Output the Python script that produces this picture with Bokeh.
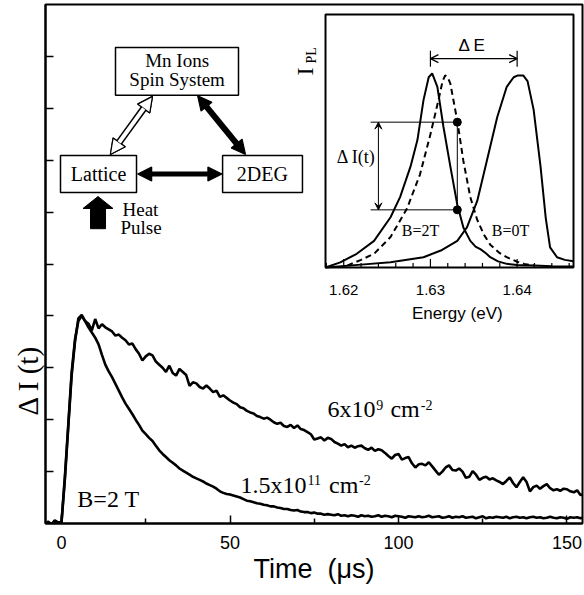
import numpy as np
from bokeh.plotting import figure
from bokeh.models import (Range1d, FixedTicker, Label, Arrow, NormalHead, OpenHead,
                          VeeHead, CustomJSTickFormatter, Title)
from bokeh.embed import file_html
from bokeh.resources import INLINE
from bokeh.core.properties import value

# ---------------- data ----------------
time_us = list(range(-5, 156))

dI_6e9 = [
    -0.06, 0.04, -0.02, 0.06, 0.02, 0.03, 0.9, 1.9, 2.9, 3.55,
    3.9, 4.0, 3.9, 3.85, 3.72, 3.94, 3.76, 3.84, 3.78, 3.74,
    3.7, 3.62, 3.64, 3.58, 3.53, 3.45, 3.47, 3.36, 3.27, 3.14,
    3.22, 3.27, 3.24, 3.12, 3.06, 3.0, 2.92, 3.04, 2.9, 2.85,
    2.98, 2.92, 2.86, 2.65, 2.72, 2.7, 2.63, 2.6, 2.66, 2.6,
    2.53, 2.56, 2.44, 2.47, 2.42, 2.37, 2.33, 2.3, 2.24, 2.22,
    2.17, 2.14, 2.12, 2.07, 2.05, 2.02, 2.04, 2.0, 1.95, 1.92,
    1.94, 1.88, 1.86, 1.9, 1.84, 1.89, 1.82, 1.8, 1.76, 1.72,
    1.62, 1.64, 1.66, 1.6, 1.65, 1.63, 1.57, 1.54, 1.5, 1.53,
    1.47, 1.5, 1.46, 1.49, 1.5, 1.45, 1.42, 1.46, 1.4, 1.43,
    1.41, 1.36, 1.3, 1.25, 1.32, 1.34, 1.23, 1.26, 1.28, 1.16,
    1.08, 1.14, 1.15, 1.12, 1.18, 1.1, 1.02, 0.94, 1.0, 1.08,
    1.12, 1.03, 1.02, 1.06, 1.0, 0.88, 0.9, 1.01, 0.94, 0.84,
    0.88, 0.9, 0.85, 0.87, 0.83, 0.8, 0.76, 0.82, 0.89, 0.78,
    0.7, 0.8, 0.89, 0.8, 0.62, 0.7, 0.73, 0.67, 0.72, 0.76,
    0.68, 0.64, 0.66, 0.63, 0.67, 0.66, 0.62, 0.6, 0.64, 0.55,
    0.56,
]

dI_15e11 = [
    -0.08, 0.0, -0.04, 0.05, 0.0, 0.02, 0.85, 1.85, 2.85, 3.5,
    3.95, 4.02, 3.9, 3.78, 3.68, 3.58, 3.45, 3.25, 3.06, 2.93,
    2.82, 2.69, 2.56, 2.43, 2.31, 2.21, 2.11, 2.0, 1.9, 1.79,
    1.72, 1.65, 1.59, 1.5, 1.41, 1.34, 1.28, 1.22, 1.17, 1.12,
    1.06, 1.02, 0.98, 0.94, 0.9, 0.87, 0.84, 0.81, 0.77, 0.74,
    0.71, 0.67, 0.62, 0.59, 0.57, 0.56, 0.54, 0.52, 0.5, 0.47,
    0.44, 0.43, 0.41, 0.39, 0.38, 0.36, 0.35, 0.33, 0.33, 0.31,
    0.3, 0.28, 0.28, 0.26, 0.25, 0.26, 0.23, 0.22, 0.22, 0.2,
    0.21, 0.19, 0.19, 0.17, 0.18, 0.17, 0.16, 0.18, 0.15, 0.16,
    0.14, 0.16, 0.15, 0.13, 0.16, 0.14, 0.15, 0.13, 0.14, 0.16,
    0.13, 0.15, 0.14, 0.12, 0.15, 0.14, 0.13, 0.11, 0.14, 0.13,
    0.12, 0.14, 0.12, 0.13, 0.15, 0.12, 0.13, 0.14, 0.11, 0.12,
    0.14, 0.11, 0.13, 0.12, 0.14, 0.11, 0.12, 0.13, 0.1, 0.12,
    0.14, 0.1, 0.12, 0.11, 0.13, 0.12, 0.11, 0.13, 0.1, 0.12,
    0.13, 0.11, 0.12, 0.1, 0.12, 0.13, 0.11, 0.12, 0.1, 0.11,
    0.13, 0.11, 0.1, 0.12, 0.11, 0.09, 0.12, 0.11, 0.12, 0.1,
    0.12,
]

x_ticks = [0, 50, 100, 150]
x_minor_ticks = [25, 75, 125]
y_ticks = [1, 2, 3, 4, 5, 6, 7, 8, 9]

# inset: PL spectra (normalised intensity)
energy_2T = [1.6179, 1.6196, 1.6215, 1.6235, 1.6254, 1.6265, 1.6277, 1.6285, 1.6292,
             1.6298, 1.6302, 1.6308, 1.6315, 1.6323, 1.6331, 1.6338, 1.6346, 1.6352,
             1.6358, 1.6364, 1.6369, 1.6378, 1.6388, 1.6400, 1.6420, 1.6440, 1.6465]
ipl_2T = [-0.01, 0.017, 0.062, 0.13, 0.254, 0.36, 0.52, 0.66, 0.87,
          0.99, 1.01, 0.94, 0.73, 0.52, 0.32, 0.20, 0.13, 0.10,
          0.085, 0.065, 0.044, 0.022, 0.009, 0.003, 0.0, -0.003, -0.005]

energy_t = [1.6204, 1.6220, 1.6235, 1.6254, 1.6273, 1.6288, 1.6300, 1.6310, 1.6314,
            1.6317, 1.6320, 1.6323, 1.6331, 1.6338, 1.6346, 1.6354, 1.6362, 1.6369,
            1.6380, 1.6388, 1.6400, 1.6408, 1.6420]
ipl_t = [0.0, 0.03, 0.062, 0.15, 0.30, 0.48, 0.69, 0.885, 0.97,
         1.0, 0.99, 0.956, 0.76, 0.55, 0.36, 0.24, 0.16, 0.11,
         0.065, 0.044, 0.02, 0.009, 0.0]

energy_0T = [1.6179, 1.6220, 1.6254, 1.6292, 1.6312, 1.6331, 1.6342, 1.6354, 1.6365,
             1.6377, 1.6388, 1.6396, 1.6401, 1.6407, 1.6412, 1.6419, 1.6427, 1.6433,
             1.6438, 1.6446, 1.6455, 1.6465]
ipl_0T = [-0.01, 0.005, 0.017, 0.044, 0.079, 0.13, 0.20, 0.34, 0.55,
          0.78, 0.94, 0.99, 1.0, 1.0, 0.97, 0.82, 0.52, 0.25,
          0.096, 0.044, 0.03, 0.023]

probe_energy = [1.6331, 1.6331]
probe_levels = [0.754, 0.293]

inset_ticks = [1.62, 1.63, 1.64]
inset_tick_labels = ["1.62", "1.63", "1.64"]
inset_minor_ticks = [1.618, 1.622, 1.624, 1.626, 1.628, 1.632, 1.634, 1.636, 1.638,
                     1.642, 1.644, 1.646]
delta_E = [1.630, 1.640]

SERIF = "Liberation Serif"
SANS = "Liberation Sans"

# ---------------- main figure ----------------
p = figure(width=584, height=595, x_range=Range1d(-4.75, 154.6), y_range=Range1d(0, 10),
           output_backend="svg", toolbar_location=None,
           min_border_left=45, min_border_right=2, min_border_top=4, min_border_bottom=72)
p.background_fill_color = "white"
p.border_fill_color = "white"
p.outline_line_color = "black"
p.outline_line_width = 2
p.xgrid.visible = False
p.ygrid.visible = False

xa = p.xaxis[0]
xa.ticker = FixedTicker(ticks=x_ticks, minor_ticks=x_minor_ticks)
xa.major_tick_in = 8
xa.major_tick_out = 0
xa.minor_tick_in = 5
xa.minor_tick_out = 0
xa.axis_line_width = 2
xa.major_tick_line_width = 1.5
xa.minor_tick_line_width = 1.5
xa.major_label_text_font = SANS
xa.major_label_text_font_size = "18px"
xa.major_label_text_color = "black"
xa.major_label_standoff = 12
xa.axis_label = "Time\u00a0\u00a0(\u03bcs)"
xa.axis_label_text_font = SANS
xa.axis_label_text_font_size = "27px"
xa.axis_label_text_font_style = "normal"
xa.axis_label_text_color = "black"
xa.axis_label_standoff = 2

ya = p.yaxis[0]
ya.ticker = FixedTicker(ticks=y_ticks, minor_ticks=[])
ya.major_tick_in = 8
ya.major_tick_out = 0
ya.minor_tick_in = 0
ya.minor_tick_out = 0
ya.axis_line_width = 2
ya.major_tick_line_width = 1.5
ya.major_label_standoff = 0
ya.formatter = CustomJSTickFormatter(code="return ''")

p.add_layout(Title(text="\u0394 I (t)", align="left", offset=108, standoff=3,
                   text_font=SERIF, text_font_size="29px", text_font_style="normal",
                   text_color="black"), "left")

p.line(time_us, dI_6e9, line_color="black", line_width=2.6)
p.line(time_us, dI_15e11, line_color="black", line_width=2.6)

def lab(x, y, text, size, font=SERIF, **kw):
    p.add_layout(Label(x=x, y=y, text=text, text_font=font, text_font_size=size,
                       text_color="black", **kw))

lab(4.7, 0.23, "B=2 T", "24px")
lab(53.1, 0.50, "1.5x10", "24px")
lab(73.0, 0.74, "11", "14px")
lab(79.4, 0.50, "cm", "24px")
lab(88.3, 0.74, "-2", "14px")
lab(78.9, 1.95, "6x10", "24px")
lab(93.4, 2.19, "9", "14px")
lab(97.6, 1.95, "cm", "24px")
lab(106.6, 2.19, "-2", "14px")

# ---------------- diagram ----------------
boxes_left = [16.02, -0.30, 47.8]
boxes_right = [52.52, 22.26, 71.5]
boxes_top = [9.17, 7.09, 7.09]
boxes_bottom = [8.25, 6.38, 6.38]
p.quad(left=boxes_left, right=boxes_right, top=boxes_top, bottom=boxes_bottom,
       fill_color="white", line_color="black", line_width=1.5)

lab(34.3, 8.92, "Mn Ions", "19px", text_align="center", text_baseline="middle")
lab(34.3, 8.55, "Spin System", "19px", text_align="center", text_baseline="middle")
lab(11.0, 6.73, "Lattice", "20px", text_align="center", text_baseline="middle")
lab(59.6, 6.73, "2DEG", "20px", text_align="center", text_baseline="middle")
lab(18.1, 6.05, "Heat", "19px", text_baseline="middle")
lab(17.5, 5.70, "Pulse", "19px", text_baseline="middle")

def head(fill="black"):
    return NormalHead(size=14, fill_color=fill, line_color="black", line_width=1.2)

# Lattice <-> 2DEG
p.add_layout(Arrow(x_start=22.6, y_start=6.735, x_end=47.6, y_end=6.735,
                   start=head(), end=head(), line_width=5, line_color="black"))
# Mn <-> 2DEG
p.add_layout(Arrow(x_start=40.4, y_start=8.24, x_end=54.6, y_end=7.11,
                   start=head(), end=head(), line_width=6, line_color="black"))
# Lattice <-> Mn (hollow)
p.add_layout(Arrow(x_start=14.5, y_start=7.11, x_end=27.0, y_end=8.23,
                   start=NormalHead(size=15, fill_color="white", line_color="black", line_width=1.2),
                   end=NormalHead(size=15, fill_color="white", line_color="black", line_width=1.2),
                   line_width=7, line_color="black"))
p.add_layout(Arrow(x_start=14.5, y_start=7.11, x_end=27.0, y_end=8.23,
                   start=NormalHead(size=15, fill_color="white", line_color="black", line_width=1.2),
                   end=NormalHead(size=15, fill_color="white", line_color="black", line_width=1.2),
                   line_width=4, line_color="white"))
# Heat pulse arrow
p.quad(left=[8.6], right=[13.06], bottom=[5.68], top=[6.08], fill_color="black", line_color="black")
p.patch(x=[6.38, 15.28, 10.83], y=[6.07, 6.07, 6.30], fill_color="black", line_color="black")

# ---------------- inset ----------------
ix = Range1d(1.6179, 1.6465)
iy = Range1d(-0.01, 1.32)
sub = p.subplot(x_source=ix, y_source=iy,
                x_target=Range1d(78.34, 151.93), y_target=Range1d(4.933, 9.807))
mapping = sub.coordinates if hasattr(sub, "coordinates") else sub._coordinates

sub.quad(left=[ix.start], right=[ix.end], bottom=[iy.start], top=[iy.end],
         fill_color="white", line_color="black", line_width=2)
sub.segment(x0=inset_ticks, x1=inset_ticks, y0=iy.start, y1=iy.start + 0.045,
            line_color="black", line_width=1.2)
sub.segment(x0=inset_minor_ticks, x1=inset_minor_ticks, y0=iy.start, y1=iy.start + 0.024,
            line_color="black", line_width=1.2)
sub.text(x=inset_ticks, y=-0.127, text=inset_tick_labels, text_font=value(SANS),
         text_font_size="15px", text_align="center", text_baseline="middle", text_color="black")
sub.text(x=[1.6331], y=[-0.253], text=["Energy (eV)"], text_font=value(SANS),
         text_font_size="17px", text_align="center", text_baseline="middle", text_color="black")

sub.line(energy_2T, ipl_2T, line_color="black", line_width=2)
sub.line(energy_0T, ipl_0T, line_color="black", line_width=2)
sub.line(energy_t, ipl_t, line_color="black", line_width=2, line_dash="6 4")

sub.segment(x0=1.6231, x1=probe_energy, y0=probe_levels, y1=probe_levels,
            line_color="black", line_width=1)
sub.segment(x0=[probe_energy[0]], x1=[probe_energy[1]], y0=[probe_levels[0]], y1=[probe_levels[1]],
            line_color="black", line_width=1)
sub.scatter(probe_energy, probe_levels, size=8, color="black")

sub.segment(x0=delta_E, x1=delta_E, y0=1.045, y1=1.13, line_color="black", line_width=1.2)

p.add_layout(Arrow(x_start=delta_E[0], y_start=1.088, x_end=delta_E[1], y_end=1.088,
                   start=OpenHead(size=8, line_width=1.2), end=OpenHead(size=8, line_width=1.2),
                   line_width=1.2, coordinates=mapping))
p.add_layout(Arrow(x_start=1.6240, y_start=probe_levels[0], x_end=1.6240, y_end=probe_levels[1],
                   start=VeeHead(size=7, fill_color="black", line_width=1),
                   end=VeeHead(size=7, fill_color="black", line_width=1),
                   line_width=1, coordinates=mapping))

sub.text(x=[1.63481], y=[1.158], text=["\u0394 E"], text_font=value(SANS),
         text_font_size="17px", text_align="center", text_baseline="middle", text_color="black")
sub.text(x=[1.6192], y=[0.57], text=["\u0394 I(t)"], text_font=value(SERIF),
         text_font_size="18px", text_align="left", text_baseline="middle", text_color="black")
sub.text(x=[1.62885, 1.63923], y=[0.184, 0.184], text=["B=2T", "B=0T"], text_font=value(SERIF),
         text_font_size="16px", text_align="center", text_baseline="middle", text_color="black")
sub.text(x=[1.61558], y=[1.021], text=["I"], angle=np.pi / 2, text_font=value(SERIF),
         text_font_size="24px", text_align="center", text_baseline="middle", text_color="black")
sub.text(x=[1.61625], y=[1.105], text=["PL"], angle=np.pi / 2, text_font=value(SERIF),
         text_font_size="14px", text_align="center", text_baseline="middle", text_color="black")

open("out.html", "w").write(file_html(p, INLINE))
